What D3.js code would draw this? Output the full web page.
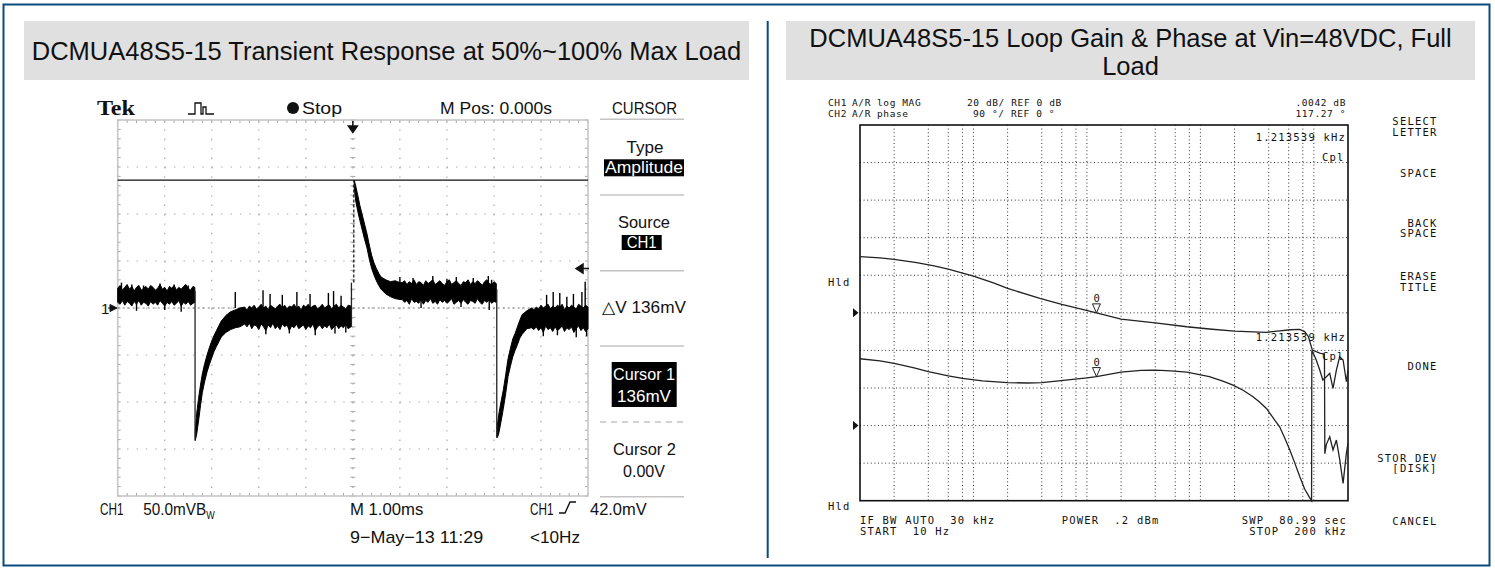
<!DOCTYPE html>
<html>
<head>
<meta charset="utf-8">
<script src="https://cdn.jsdelivr.net/npm/d3@7"></script>
<style>
  body { margin: 0; background: #fff; }
  svg text { font-family: "Liberation Sans", Arial, sans-serif; }
  .hp text { font-family: "DejaVu Sans Mono", monospace; font-size: 10.5px; letter-spacing: 1.2px; fill: #111; white-space: pre; }
  .hp text.small { font-size: 9.5px; letter-spacing: 0.6px; }
</style>
</head>
<body>
<div id="chart"></div>
<script>
// ---------- data: oscilloscope (time in ms, voltage in mV, ground = 0) ----------
// each row: [t, top of trace band, bottom of trace band]
const scopeBandA = [
  [0.00, 21, 6], [0.05, 24, 4], [0.10, 19, 8], [0.15, 22, 3], [0.20, 25, 7], [0.25, 20, 5],
  [0.30, 23, 2], [0.35, 18, 7], [0.40, 22, 4], [0.45, 24, 8], [0.50, 19, 3], [0.55, 21, 6],
  [0.60, 23, 5], [0.65, 20, 2], [0.70, 24, 7], [0.75, 22, 4], [0.80, 19, 6], [0.85, 21, 3],
  [0.90, 25, 8], [0.95, 20, 5], [1.00, 22, 2], [1.05, 18, 6], [1.10, 23, 4], [1.15, 21, 7],
  [1.20, 24, 3], [1.25, 19, 5], [1.30, 22, 8], [1.35, 20, 2], [1.40, 23, 6], [1.45, 25, 4],
  [1.50, 21, 7], [1.55, 19, 3], [1.60, 23, 5], [1.64, 22, 6]
];
const scopeBandB = [
  [1.65, -130, -141], [1.68, -112, -134], [1.72, -96, -120], [1.76, -82, -104], [1.80, -70, -90],
  [1.85, -59, -78], [1.90, -50, -68], [1.95, -42, -60], [2.00, -35, -53], [2.05, -29, -46],
  [2.10, -24, -41], [2.15, -19, -36], [2.20, -14, -31], [2.30, -8, -26], [2.40, -4, -23],
  [2.50, -2, -21], [2.60, 0, -20], [2.70, 1, -17], [2.75, -2, -20], [2.80, 2, -16], [2.85, 0, -22],
  [2.90, 3, -18], [2.95, -1, -19], [3.00, 1, -23], [3.05, 4, -17], [3.10, 0, -20], [3.15, 2, -24],
  [3.20, -2, -18], [3.25, 3, -21], [3.30, 1, -16], [3.35, -1, -22], [3.40, 2, -19], [3.45, 4, -23],
  [3.50, 0, -17], [3.55, 3, -20], [3.60, -1, -18], [3.65, 2, -24], [3.70, 1, -19], [3.75, 4, -21],
  [3.80, 0, -17], [3.85, 2, -22], [3.90, -2, -20], [3.95, 3, -18], [4.00, 1, -23], [4.05, 4, -19],
  [4.10, 0, -21], [4.15, 2, -17], [4.20, 3, -24], [4.25, -1, -20], [4.30, 1, -18], [4.35, 4, -22],
  [4.40, 0, -19], [4.45, 2, -21], [4.50, 3, -17], [4.55, -1, -23], [4.60, 2, -20], [4.65, 4, -18],
  [4.70, 0, -22], [4.75, 3, -19], [4.80, 1, -21], [4.85, -1, -17], [4.90, 3, -22], [4.96, 2, -20]
];
const scopeBandC = [
  [5.03, 136, 128], [5.06, 130, 114], [5.10, 121, 104], [5.15, 109, 93], [5.20, 99, 83],
  [5.25, 89, 73], [5.30, 79, 64], [5.35, 67, 52], [5.40, 56, 42], [5.45, 48, 35], [5.50, 42, 29],
  [5.55, 37, 24], [5.60, 33, 20], [5.70, 30, 15], [5.80, 28, 12], [5.90, 29, 10], [6.00, 27, 9],
  [6.05, 27, 9], [6.10, 29, 6], [6.15, 25, 8], [6.20, 28, 4], [6.25, 26, 10], [6.30, 30, 6],
  [6.35, 25, 7], [6.40, 28, 5], [6.45, 27, 9], [6.50, 24, 4], [6.55, 29, 8], [6.60, 26, 6],
  [6.65, 28, 10], [6.70, 30, 5], [6.75, 25, 7], [6.80, 27, 4], [6.85, 29, 9], [6.90, 26, 6],
  [6.95, 24, 8], [7.00, 28, 5], [7.05, 30, 7], [7.10, 25, 10], [7.15, 27, 4], [7.20, 29, 6],
  [7.25, 26, 8], [7.30, 24, 5], [7.35, 28, 9], [7.40, 27, 6], [7.45, 30, 4], [7.50, 25, 8],
  [7.55, 28, 7], [7.60, 26, 5], [7.65, 29, 10], [7.70, 27, 6], [7.75, 24, 4], [7.80, 28, 8],
  [7.85, 30, 6], [7.90, 26, 9], [7.95, 25, 5], [8.00, 28, 7], [8.05, 26, 6]
];
const scopeBandD = [
  [8.07, -126, -138], [8.10, -114, -134], [8.15, -100, -121], [8.20, -87, -107], [8.25, -71, -91],
  [8.30, -54, -73], [8.35, -43, -62], [8.40, -33, -52], [8.45, -27, -45], [8.50, -20, -39],
  [8.55, -13, -32], [8.60, -7, -28], [8.70, -3, -22], [8.80, 0, -21], [8.85, -2, -23],
  [8.90, 1, -20], [8.95, -1, -24], [9.00, 3, -21], [9.05, 0, -26], [9.10, 2, -19], [9.15, 4, -23],
  [9.20, -1, -21], [9.25, 2, -25], [9.30, 0, -20], [9.35, 3, -24], [9.40, 1, -22], [9.45, 4, -19],
  [9.50, -2, -25], [9.55, 2, -21], [9.60, 0, -23], [9.65, 3, -20], [9.70, 1, -26], [9.75, -1, -22],
  [9.80, 4, -19], [9.85, 2, -24], [9.90, 0, -21], [9.95, 3, -25], [10.0, 1, -22]
];
// load steps: [t, from mV, to mV, dashed]
const scopeEdges = [[1.645, 18, -141, 0], [4.97, -20, 27, 0], [5.02, 27, 136, 1], [8.06, 20, -138, 0]];
// noise spikes: [t, from mV, to mV]
const scopeSpikes = [
  [0.08, 15, 27], [0.30, 15, 25], [0.55, 15, 24], [0.90, 15, 26], [1.20, 15, 25], [1.50, 15, 24],
  [0.40, 5, -3], [1.00, 5, -2], [1.35, 5, -4],
  [2.50, 0, 17], [3.09, 0, 19], [3.24, 0, 15], [3.50, 0, 14], [3.81, 0, 17], [4.09, 0, 15],
  [4.48, 0, 16], [4.59, 0, 18], [4.75, 0, 13],
  [3.15, -18, -28], [3.65, -18, -27], [4.20, -18, -29], [4.62, -18, -27], [4.85, -18, -26],
  [6.00, 20, 33], [6.28, 20, 32], [6.70, 20, 34], [7.00, 20, 31], [7.20, 20, 33], [7.56, 20, 32],
  [7.88, 20, 34], [7.95, 20, 30], [6.45, 10, 0], [7.30, 10, 1], [7.90, 10, -2],
  [9.12, 0, 14], [9.26, 0, 17], [9.40, 0, 16], [9.55, 0, 12], [9.69, 0, 15], [9.87, 0, 17], [9.94, 0, 28],
  [9.05, -20, -30], [9.35, -20, -29], [9.75, -20, -31], [9.97, -20, -30]
];
const cursor1 = 136;     // mV
const cursor2 = 0;       // mV
const triggerLevel = 42; // mV
const triggerPos = 5;    // ms (centre of screen)

// ---------- data: network analyzer (Hz, dB / degrees) ----------
const naGain = [
  [10, 29.9], [15, 29.3], [20, 28.5], [31.6, 26.7], [45, 25], [60, 23.3], [100, 19.6], [150, 16],
  [200, 13], [385, 7.7], [600, 4.5], [970, 1.5], [1213.5, 0], [2000, -3.3], [4000, -5.3],
  [7600, -7.4], [12000, -8.6], [20000, -9.7], [38000, -10.4], [50000, -9.6], [62000, -9],
  [75000, -8.8], [83000, -10], [89600, -12.7], [95000, -18], [97000, -19.8], [112700, -21.4],
  [124000, -22], [125000, -75], [129000, -70], [138000, -66], [147600, -73], [158000, -67.7],
  [169000, -78], [181000, -90.8], [193600, -74.7], [200000, -69.5]
];
const naPhase = [
  [10, 160], [15, 155], [20, 149], [30, 138], [40, 129], [60, 119], [80, 113], [120, 107],
  [200, 103], [300, 102], [400, 103], [650, 109], [1000, 114], [1213.5, 117.3], [2000, 128],
  [3000, 132], [4000, 133], [5500, 131], [7600, 128], [12000, 117], [16000, 106], [19400, 97],
  [24000, 84], [29100, 69], [33000, 57], [38200, 41], [45200, 13], [50000, -3], [55000, -28],
  [61300, -58], [68000, -90], [75100, -122], [83000, -152], [91600, -172], [95500, -180],
  [96000, 180], [100000, 170], [105000, 157], [112700, 133], [120000, 109], [129000, 117],
  [138000, 125], [147600, 89], [158000, 133], [169000, 165], [181000, 157], [193600, 105], [200000, 133]
];
const naGridFreqs = [20, 40, 60, 80, 100, 200, 400, 600, 800, 1e3, 2e3, 4e3, 6e3, 8e3, 1e4, 2e4, 4e4, 6e4, 8e4, 1e5];
const naMarkerFreq = 1213.539;
const naMenu = [["SELECT", "LETTER"], ["SPACE"], ["BACK", "SPACE"], ["ERASE", "TITLE"], ["DONE"], ["STOR DEV", "[DISK]"], ["CANCEL"]];

const titles = ["DCMUA48S5-15 Transient Response at 50%~100% Max Load",
                "DCMUA48S5-15 Loop Gain & Phase at Vin=48VDC, Full", "Load"];

// ---------- page ----------
const svg = d3.select("#chart").append("svg").attr("width", 1495).attr("height", 569);

function label(g, x, y, s, o = {}) {
  const t = g.append("text").attr("x", x).attr("y", y).text(s);
  if (o.anchor) t.attr("text-anchor", o.anchor);
  if (o.size) t.style("font-size", o.size + "px");
  if (o.len) t.attr("textLength", o.len).attr("lengthAdjust", "spacingAndGlyphs");
  if (o.fill) t.attr("fill", o.fill);
  if (o.cls) t.attr("class", o.cls);
  return t;
}

// outer frame and divider
svg.append("rect").attr("x", 3.5).attr("y", 4.5).attr("width", 1486).attr("height", 561)
  .attr("fill", "none").attr("stroke", "#0d4a7c").attr("stroke-width", 2);
svg.append("line").attr("x1", 767.7).attr("x2", 767.7).attr("y1", 21).attr("y2", 558)
  .attr("stroke", "#0d4a7c").attr("stroke-width", 2);

// title boxes
svg.append("rect").attr("x", 24).attr("y", 21).attr("width", 725).attr("height", 59).attr("fill", "#e0e0e0");
svg.append("rect").attr("x", 786).attr("y", 21).attr("width", 689).attr("height", 59).attr("fill", "#e0e0e0");
label(svg, 386.5, 59.5, titles[0], { anchor: "middle", size: 25.5, fill: "#111" });
// wrapped title: one text, two lines
const t2 = svg.append("text").attr("text-anchor", "middle").attr("fill", "#111").style("font-size", "25.5px");
t2.append("tspan").attr("x", 1130.5).attr("y", 47).text(titles[1]);
t2.append("tspan").attr("x", 1130.5).attr("dy", 28).text(titles[2]);

// ================= oscilloscope =================
const sc = svg.append("g");
const sx = d3.scaleLinear().domain([0, 10]).range([117.7, 588]);
const sy = d3.scaleLinear().domain([-200, 200]).range([496, 120]);
const gridCol = "#a8a8a8";

// dotted graticule
d3.range(1, 10).forEach(i => {
  sc.append("line").attr("x1", sx(i)).attr("x2", sx(i)).attr("y1", sy(200)).attr("y2", sy(-200))
    .attr("stroke", gridCol).attr("stroke-width", 1.2).attr("stroke-dasharray", "1.4,8.0");
});
d3.range(-3, 4).forEach(j => {
  sc.append("line").attr("x1", sx(0)).attr("x2", sx(10)).attr("y1", sy(j * 50)).attr("y2", sy(j * 50))
    .attr("stroke", gridCol).attr("stroke-width", 1.2).attr("stroke-dasharray", "1.4,8.0");
});
// minor ticks on centre axes and frame
d3.range(0, 10.01, 0.2).forEach(t => {
  const x = sx(t);
  sc.append("line").attr("x1", x).attr("x2", x).attr("y1", sy(200)).attr("y2", sy(200) + 3).attr("stroke", gridCol);
  sc.append("line").attr("x1", x).attr("x2", x).attr("y1", sy(-200) - 3).attr("y2", sy(-200)).attr("stroke", gridCol);
});
d3.range(-200, 200.1, 10).forEach(v => {
  const y = sy(v);
  sc.append("line").attr("x1", sx(0)).attr("x2", sx(0) + 3).attr("y1", y).attr("y2", y).attr("stroke", gridCol);
  sc.append("line").attr("x1", sx(10) - 3).attr("x2", sx(10)).attr("y1", y).attr("y2", y).attr("stroke", gridCol);
  sc.append("line").attr("x1", sx(5) - 2.5).attr("x2", sx(5) + 2.5).attr("y1", y).attr("y2", y).attr("stroke", gridCol);
});
sc.append("rect").attr("x", sx(0)).attr("y", sy(200)).attr("width", sx(10) - sx(0)).attr("height", sy(-200) - sy(200))
  .attr("fill", "none").attr("stroke", "#c4c4c4").attr("stroke-width", 1.5);

// cursors
sc.append("line").attr("x1", sx(0)).attr("x2", sx(10)).attr("y1", sy(cursor1)).attr("y2", sy(cursor1))
  .attr("stroke", "#111").attr("stroke-width", 1.2);
sc.append("line").attr("x1", sx(0)).attr("x2", sx(10)).attr("y1", sy(cursor2)).attr("y2", sy(cursor2))
  .attr("stroke", "#777").attr("stroke-width", 1.2).attr("stroke-dasharray", "2,3");

// trace
const band = d3.area().x(d => sx(d[0])).y0(d => sy(d[2])).y1(d => sy(d[1]));
[scopeBandA, scopeBandB, scopeBandC, scopeBandD].forEach(seg => {
  sc.append("path").attr("d", band(seg)).attr("fill", "#000").attr("stroke", "#000").attr("stroke-width", 1);
});
sc.selectAll(".edge").data(scopeEdges).enter().append("line")
  .attr("x1", d => sx(d[0])).attr("x2", d => sx(d[0])).attr("y1", d => sy(d[1])).attr("y2", d => sy(d[2]))
  .attr("stroke", "#222").attr("stroke-width", 1.3).attr("stroke-dasharray", d => d[3] ? "3,2" : null);
sc.selectAll(".spike").data(scopeSpikes).enter().append("line")
  .attr("x1", d => sx(d[0])).attr("x2", d => sx(d[0])).attr("y1", d => sy(d[1])).attr("y2", d => sy(d[2]))
  .attr("stroke", "#000").attr("stroke-width", 1.4);

// channel / trigger markers
label(sc, 101, 314, "1", { size: 15, fill: "#111" });
sc.append("path").attr("d", `M110,${sy(0) - 3.5} L117,${sy(0)} L110,${sy(0) + 3.5} Z M108,${sy(0)} H112`)
  .attr("fill", "#111").attr("stroke", "#111");
const tp = sx(triggerPos);
sc.append("path").attr("d", `M${tp},121 V128 M${tp - 4.5},126 H${tp + 4.5} L${tp},132.5 Z`)
  .attr("fill", "#111").attr("stroke", "#111").attr("stroke-width", 1.5);
const tl = sy(triggerLevel);
sc.append("path").attr("d", `M576,${tl} L583,${tl - 4.5} V${tl + 4.5} Z M583,${tl} H589`)
  .attr("fill", "#111").attr("stroke", "#111").attr("stroke-width", 1.5);

// top status line
label(sc, 97, 115, "Tek", { size: 21, len: 38, fill: "#111" }).style("font-family", "'Liberation Serif', serif").style("font-weight", "bold");
sc.append("path").attr("d", "M188,114 H195 V103 H201 V114 H203 V107 H206 V114 H214")
  .attr("fill", "none").attr("stroke", "#111").attr("stroke-width", 1.3);
sc.append("circle").attr("cx", 293).attr("cy", 108).attr("r", 6).attr("fill", "#111");
label(sc, 302, 114, "Stop", { size: 17, len: 40, fill: "#111" });
label(sc, 440, 114, "M Pos: 0.000s", { size: 17, len: 112, fill: "#111" });

// cursor menu
const menuCol = "#c4c4c4";
[119.3, 195, 270.7, 346, 496.7].forEach(y => {
  sc.append("line").attr("x1", 600).attr("x2", 684).attr("y1", y).attr("y2", y).attr("stroke", menuCol).attr("stroke-width", 1.5);
});
sc.append("line").attr("x1", 600).attr("x2", 684).attr("y1", 422).attr("y2", 422)
  .attr("stroke", menuCol).attr("stroke-width", 1.5).attr("stroke-dasharray", "6,5");
sc.append("rect").attr("x", 604).attr("y", 159.3).attr("width", 80).attr("height", 17).attr("fill", "#000");
sc.append("rect").attr("x", 621.7).attr("y", 235).attr("width", 40).attr("height", 15).attr("fill", "#000");
sc.append("rect").attr("x", 611.7).attr("y", 362).attr("width", 65).attr("height", 45).attr("fill", "#000");
label(sc, 644.5, 113.5, "CURSOR", { anchor: "middle", size: 17, len: 65, fill: "#111" });
label(sc, 645, 153.3, "Type", { anchor: "middle", size: 17, len: 37, fill: "#111" });
label(sc, 644, 173, "Amplitude", { anchor: "middle", size: 17, len: 78, fill: "#fff" });
label(sc, 644, 228.3, "Source", { anchor: "middle", size: 17, len: 52, fill: "#111" });
label(sc, 641.7, 248.3, "CH1", { anchor: "middle", size: 17, len: 30, fill: "#fff" });
label(sc, 602, 312.7, "\u25B3V 136mV", { size: 17, len: 84, fill: "#111" });
label(sc, 644, 380, "Cursor 1", { anchor: "middle", size: 17, len: 62, fill: "#fff" });
label(sc, 644, 401.7, "136mV", { anchor: "middle", size: 17, len: 54, fill: "#fff" });
label(sc, 644.5, 455, "Cursor 2", { anchor: "middle", size: 17, len: 63, fill: "#111" });
label(sc, 644, 477.3, "0.00V", { anchor: "middle", size: 17, len: 42, fill: "#111" });

// bottom status lines
label(sc, 100, 515, "CH1", { size: 17, len: 23.5, fill: "#111" });
const bw = sc.append("text").attr("transform", "translate(143.3,515) scale(0.9,1)").attr("fill", "#111").style("font-size", "17px");
bw.append("tspan").text("50.0mVB");
bw.append("tspan").attr("dy", 4).style("font-size", "10px").text("W");
label(sc, 350, 515, "M 1.00ms", { size: 17, len: 73.3, fill: "#111" });
label(sc, 350, 543.3, "9\u2212May\u221213 11:29", { size: 17, len: 133.3, fill: "#111" });
label(sc, 530, 515, "CH1", { size: 17, len: 23.5, fill: "#111" });
sc.append("path").attr("d", "M559,513 H565 L570,502 H576").attr("fill", "none").attr("stroke", "#111").attr("stroke-width", 1.4);
label(sc, 590, 515, "42.0mV", { size: 17, len: 56.7, fill: "#111" });
label(sc, 530, 543.3, "<10Hz", { size: 17, len: 50, fill: "#111" });

// ================= network analyzer =================
const na = svg.append("g").attr("class", "hp");
const nx = d3.scaleLog().domain([10, 2e5]).range([860, 1348]);
const ng = d3.scaleLinear().domain([-100, 100]).range([500.7, 125]);   // 20 dB/div, ref 0 dB
const np = d3.scaleLinear().domain([-180, 720]).range([500.7, 125]);   // 90 deg/div, ref 0 deg

naGridFreqs.forEach(f => {
  na.append("line").attr("x1", nx(f)).attr("x2", nx(f)).attr("y1", ng(100)).attr("y2", ng(-100))
    .attr("stroke", "#333").attr("stroke-width", 1).attr("stroke-dasharray", "1,2.6");
});
d3.range(-80, 81, 20).forEach(v => {
  na.append("line").attr("x1", nx(10)).attr("x2", nx(2e5)).attr("y1", ng(v)).attr("y2", ng(v))
    .attr("stroke", "#333").attr("stroke-width", 1).attr("stroke-dasharray", "1,2.6");
});
na.append("rect").attr("x", nx(10)).attr("y", ng(100)).attr("width", nx(2e5) - nx(10)).attr("height", ng(-100) - ng(100))
  .attr("fill", "none").attr("stroke", "#111").attr("stroke-width", 1.6);

const gainLine = d3.line().x(d => nx(d[0])).y(d => ng(d[1]));
const phaseLine = d3.line().x(d => nx(d[0])).y(d => np(d[1]));
na.append("path").attr("d", gainLine(naGain)).attr("fill", "none").attr("stroke", "#222").attr("stroke-width", 1.3);
na.append("path").attr("d", phaseLine(naPhase)).attr("fill", "none").attr("stroke", "#222").attr("stroke-width", 1.3);

// markers at crossover
const mx = nx(naMarkerFreq);
[ng(0), np(117.27)].forEach(y => {
  na.append("path").attr("d", `M${mx},${y} L${mx - 4},${y - 9} H${mx + 4} Z`)
    .attr("fill", "#fff").attr("stroke", "#222").attr("stroke-width", 1);
  label(na, mx - 3, y - 11, "0");
});
// reference arrows
[ng(0), np(0)].forEach(y => {
  na.append("path").attr("d", `M853,${y - 4.5} L858.5,${y} L853,${y + 4.5} Z`).attr("fill", "#111");
});

// header
label(na, 828, 106.3, "CH1", { cls: "small" });
label(na, 852, 106.3, "A/R", { cls: "small" });
label(na, 877, 106.3, "log MAG", { cls: "small" });
label(na, 967, 106.3, "20 dB/ REF 0 dB", { cls: "small" });
label(na, 1346, 106.3, ".0042 dB", { cls: "small", anchor: "end" });
label(na, 828, 117, "CH2", { cls: "small" });
label(na, 852, 117, "A/R", { cls: "small" });
label(na, 877, 117, "phase", { cls: "small" });
label(na, 973, 117, "90 \u00B0/ REF 0 \u00B0", { cls: "small" });
label(na, 1346, 117, "117.27 \u00B0", { cls: "small", anchor: "end" });

// marker readouts inside the grid
label(na, 1346, 141, "1.213539 kHz", { anchor: "end" });
label(na, 1322, 161, "Cpl");
label(na, 1346, 341, "1.213539 kHz", { anchor: "end" });
label(na, 1322, 360, "Cpl");
label(na, 828, 285.5, "Hld");
label(na, 828, 509.5, "Hld");

// bottom lines
label(na, 860, 523.6, "IF BW AUTO  30 kHz");
label(na, 860, 535.3, "START  10 Hz");
label(na, 1061.7, 523.6, "POWER  .2 dBm");
label(na, 1347, 523.6, "SWP  80.99 sec", { anchor: "end" });
label(na, 1347, 535.3, "STOP  200 kHz", { anchor: "end" });

// soft key menu
const menuY = [125.3, 176.9, 226.9, 280.3, 369.6, 461.9, 525.3];
naMenu.forEach((lines, i) => {
  lines.forEach((s, k) => label(na, 1437.5, menuY[i] + k * 10.5, s, { anchor: "end" }));
});
</script>
</body>
</html>
